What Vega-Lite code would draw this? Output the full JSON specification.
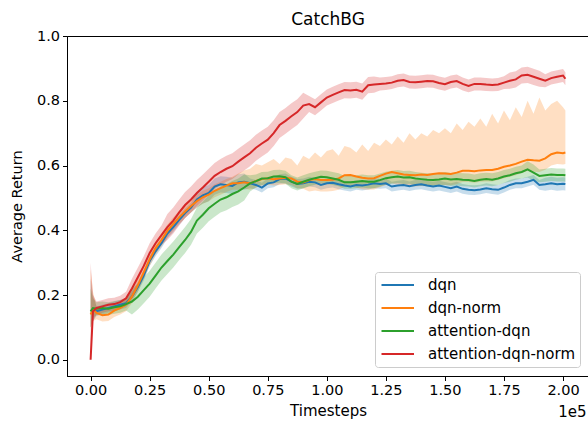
{
"$schema": "https://vega.github.io/schema/vega-lite/v6.json",
"width": 522, "height": 340,
"autosize": {"type": "none"},
"padding": {"left": 67, "top": 36, "right": 0, "bottom": 46},
"background": "white",
"config": {
  "font": "DejaVu Sans",
  "view": {"stroke": "black", "strokeWidth": 1}
},
"title": {"text": "CatchBG", "fontSize": 17, "fontWeight": "normal", "font": "DejaVu Sans", "color": "black", "offset": -1, "anchor": "middle"},
"data": {"values": [
{"s":"dqn","t":0,"v":0.15,"lo":0.10,"hi":0.25},
{"s":"dqn","t":0.01,"v":0.155,"lo":0.12,"hi":0.20},
{"s":"dqn","t":0.025,"v":0.15,"lo":0.135,"hi":0.165},
{"s":"dqn","t":0.05,"v":0.155,"lo":0.14,"hi":0.17},
{"s":"dqn","t":0.075,"v":0.16,"lo":0.145,"hi":0.175},
{"s":"dqn","t":0.1,"v":0.165,"lo":0.15,"hi":0.18},
{"s":"dqn","t":0.125,"v":0.17,"lo":0.155,"hi":0.185},
{"s":"dqn","t":0.15,"v":0.175,"lo":0.16,"hi":0.19},
{"s":"dqn","t":0.175,"v":0.195,"lo":0.18,"hi":0.21},
{"s":"dqn","t":0.2,"v":0.225,"lo":0.21,"hi":0.24},
{"s":"dqn","t":0.225,"v":0.26,"lo":0.245,"hi":0.275},
{"s":"dqn","t":0.25,"v":0.305,"lo":0.29,"hi":0.32},
{"s":"dqn","t":0.275,"v":0.335,"lo":0.32,"hi":0.35},
{"s":"dqn","t":0.3,"v":0.36,"lo":0.345,"hi":0.375},
{"s":"dqn","t":0.325,"v":0.39,"lo":0.375,"hi":0.405},
{"s":"dqn","t":0.35,"v":0.41,"lo":0.395,"hi":0.425},
{"s":"dqn","t":0.375,"v":0.432,"lo":0.417,"hi":0.447},
{"s":"dqn","t":0.4,"v":0.453,"lo":0.438,"hi":0.468},
{"s":"dqn","t":0.425,"v":0.47,"lo":0.455,"hi":0.485},
{"s":"dqn","t":0.45,"v":0.495,"lo":0.47,"hi":0.52},
{"s":"dqn","t":0.475,"v":0.508,"lo":0.483,"hi":0.533},
{"s":"dqn","t":0.5,"v":0.515,"lo":0.49,"hi":0.54},
{"s":"dqn","t":0.525,"v":0.535,"lo":0.51,"hi":0.56},
{"s":"dqn","t":0.55,"v":0.542,"lo":0.517,"hi":0.567},
{"s":"dqn","t":0.575,"v":0.54,"lo":0.515,"hi":0.565},
{"s":"dqn","t":0.6,"v":0.537,"lo":0.512,"hi":0.562},
{"s":"dqn","t":0.625,"v":0.548,"lo":0.523,"hi":0.573},
{"s":"dqn","t":0.65,"v":0.55,"lo":0.525,"hi":0.575},
{"s":"dqn","t":0.675,"v":0.545,"lo":0.53,"hi":0.56},
{"s":"dqn","t":0.7,"v":0.54,"lo":0.525,"hi":0.555},
{"s":"dqn","t":0.725,"v":0.532,"lo":0.517,"hi":0.547},
{"s":"dqn","t":0.75,"v":0.545,"lo":0.53,"hi":0.56},
{"s":"dqn","t":0.775,"v":0.548,"lo":0.533,"hi":0.563},
{"s":"dqn","t":0.8,"v":0.558,"lo":0.543,"hi":0.573},
{"s":"dqn","t":0.825,"v":0.56,"lo":0.545,"hi":0.575},
{"s":"dqn","t":0.85,"v":0.55,"lo":0.535,"hi":0.565},
{"s":"dqn","t":0.875,"v":0.543,"lo":0.528,"hi":0.558},
{"s":"dqn","t":0.9,"v":0.545,"lo":0.53,"hi":0.56},
{"s":"dqn","t":0.925,"v":0.55,"lo":0.535,"hi":0.565},
{"s":"dqn","t":0.95,"v":0.548,"lo":0.533,"hi":0.563},
{"s":"dqn","t":0.975,"v":0.54,"lo":0.525,"hi":0.555},
{"s":"dqn","t":1.0,"v":0.545,"lo":0.53,"hi":0.56},
{"s":"dqn","t":1.025,"v":0.547,"lo":0.532,"hi":0.562},
{"s":"dqn","t":1.05,"v":0.542,"lo":0.527,"hi":0.557},
{"s":"dqn","t":1.075,"v":0.538,"lo":0.523,"hi":0.553},
{"s":"dqn","t":1.1,"v":0.535,"lo":0.52,"hi":0.55},
{"s":"dqn","t":1.125,"v":0.54,"lo":0.525,"hi":0.555},
{"s":"dqn","t":1.15,"v":0.538,"lo":0.523,"hi":0.553},
{"s":"dqn","t":1.175,"v":0.541,"lo":0.526,"hi":0.556},
{"s":"dqn","t":1.2,"v":0.545,"lo":0.53,"hi":0.56},
{"s":"dqn","t":1.225,"v":0.543,"lo":0.528,"hi":0.558},
{"s":"dqn","t":1.25,"v":0.545,"lo":0.53,"hi":0.56},
{"s":"dqn","t":1.275,"v":0.535,"lo":0.52,"hi":0.55},
{"s":"dqn","t":1.3,"v":0.538,"lo":0.523,"hi":0.553},
{"s":"dqn","t":1.325,"v":0.54,"lo":0.525,"hi":0.555},
{"s":"dqn","t":1.35,"v":0.536,"lo":0.521,"hi":0.551},
{"s":"dqn","t":1.375,"v":0.54,"lo":0.525,"hi":0.555},
{"s":"dqn","t":1.4,"v":0.542,"lo":0.527,"hi":0.557},
{"s":"dqn","t":1.425,"v":0.538,"lo":0.523,"hi":0.553},
{"s":"dqn","t":1.45,"v":0.535,"lo":0.52,"hi":0.55},
{"s":"dqn","t":1.475,"v":0.538,"lo":0.523,"hi":0.553},
{"s":"dqn","t":1.5,"v":0.534,"lo":0.519,"hi":0.549},
{"s":"dqn","t":1.525,"v":0.53,"lo":0.515,"hi":0.545},
{"s":"dqn","t":1.55,"v":0.535,"lo":0.52,"hi":0.55},
{"s":"dqn","t":1.575,"v":0.528,"lo":0.513,"hi":0.543},
{"s":"dqn","t":1.6,"v":0.525,"lo":0.51,"hi":0.54},
{"s":"dqn","t":1.625,"v":0.524,"lo":0.509,"hi":0.539},
{"s":"dqn","t":1.65,"v":0.526,"lo":0.511,"hi":0.541},
{"s":"dqn","t":1.675,"v":0.53,"lo":0.515,"hi":0.545},
{"s":"dqn","t":1.7,"v":0.527,"lo":0.512,"hi":0.542},
{"s":"dqn","t":1.725,"v":0.525,"lo":0.51,"hi":0.54},
{"s":"dqn","t":1.75,"v":0.532,"lo":0.517,"hi":0.547},
{"s":"dqn","t":1.775,"v":0.54,"lo":0.525,"hi":0.555},
{"s":"dqn","t":1.8,"v":0.545,"lo":0.53,"hi":0.56},
{"s":"dqn","t":1.825,"v":0.545,"lo":0.53,"hi":0.56},
{"s":"dqn","t":1.85,"v":0.55,"lo":0.535,"hi":0.565},
{"s":"dqn","t":1.875,"v":0.556,"lo":0.541,"hi":0.571},
{"s":"dqn","t":1.9,"v":0.54,"lo":0.525,"hi":0.555},
{"s":"dqn","t":1.925,"v":0.542,"lo":0.522,"hi":0.562},
{"s":"dqn","t":1.95,"v":0.545,"lo":0.525,"hi":0.565},
{"s":"dqn","t":1.975,"v":0.542,"lo":0.522,"hi":0.562},
{"s":"dqn","t":2.0,"v":0.544,"lo":0.524,"hi":0.564},
{"s":"dqn","t":2.01,"v":0.543,"lo":0.523,"hi":0.563},
{"s":"dqn-norm","t":0,"v":0.14,"lo":0.10,"hi":0.28},
{"s":"dqn-norm","t":0.01,"v":0.155,"lo":0.12,"hi":0.21},
{"s":"dqn-norm","t":0.025,"v":0.145,"lo":0.125,"hi":0.165},
{"s":"dqn-norm","t":0.05,"v":0.138,"lo":0.118,"hi":0.158},
{"s":"dqn-norm","t":0.075,"v":0.14,"lo":0.12,"hi":0.16},
{"s":"dqn-norm","t":0.1,"v":0.152,"lo":0.132,"hi":0.172},
{"s":"dqn-norm","t":0.125,"v":0.16,"lo":0.14,"hi":0.18},
{"s":"dqn-norm","t":0.15,"v":0.17,"lo":0.15,"hi":0.19},
{"s":"dqn-norm","t":0.175,"v":0.195,"lo":0.175,"hi":0.215},
{"s":"dqn-norm","t":0.2,"v":0.23,"lo":0.21,"hi":0.25},
{"s":"dqn-norm","t":0.225,"v":0.27,"lo":0.25,"hi":0.29},
{"s":"dqn-norm","t":0.25,"v":0.31,"lo":0.29,"hi":0.33},
{"s":"dqn-norm","t":0.275,"v":0.345,"lo":0.325,"hi":0.365},
{"s":"dqn-norm","t":0.3,"v":0.37,"lo":0.35,"hi":0.39},
{"s":"dqn-norm","t":0.325,"v":0.398,"lo":0.378,"hi":0.418},
{"s":"dqn-norm","t":0.35,"v":0.42,"lo":0.40,"hi":0.44},
{"s":"dqn-norm","t":0.375,"v":0.44,"lo":0.42,"hi":0.46},
{"s":"dqn-norm","t":0.4,"v":0.458,"lo":0.438,"hi":0.478},
{"s":"dqn-norm","t":0.425,"v":0.475,"lo":0.455,"hi":0.495},
{"s":"dqn-norm","t":0.45,"v":0.49,"lo":0.47,"hi":0.51},
{"s":"dqn-norm","t":0.475,"v":0.502,"lo":0.482,"hi":0.522},
{"s":"dqn-norm","t":0.5,"v":0.51,"lo":0.49,"hi":0.53},
{"s":"dqn-norm","t":0.525,"v":0.522,"lo":0.502,"hi":0.542},
{"s":"dqn-norm","t":0.55,"v":0.53,"lo":0.51,"hi":0.55},
{"s":"dqn-norm","t":0.575,"v":0.538,"lo":0.518,"hi":0.558},
{"s":"dqn-norm","t":0.6,"v":0.545,"lo":0.525,"hi":0.565},
{"s":"dqn-norm","t":0.625,"v":0.545,"lo":0.525,"hi":0.575},
{"s":"dqn-norm","t":0.65,"v":0.548,"lo":0.528,"hi":0.585},
{"s":"dqn-norm","t":0.675,"v":0.545,"lo":0.525,"hi":0.59},
{"s":"dqn-norm","t":0.7,"v":0.552,"lo":0.532,"hi":0.605},
{"s":"dqn-norm","t":0.725,"v":0.558,"lo":0.538,"hi":0.6},
{"s":"dqn-norm","t":0.75,"v":0.561,"lo":0.541,"hi":0.61},
{"s":"dqn-norm","t":0.775,"v":0.558,"lo":0.538,"hi":0.62},
{"s":"dqn-norm","t":0.8,"v":0.56,"lo":0.54,"hi":0.605},
{"s":"dqn-norm","t":0.825,"v":0.562,"lo":0.542,"hi":0.625},
{"s":"dqn-norm","t":0.85,"v":0.56,"lo":0.54,"hi":0.62},
{"s":"dqn-norm","t":0.875,"v":0.55,"lo":0.53,"hi":0.6},
{"s":"dqn-norm","t":0.9,"v":0.548,"lo":0.528,"hi":0.63},
{"s":"dqn-norm","t":0.925,"v":0.555,"lo":0.52,"hi":0.62},
{"s":"dqn-norm","t":0.95,"v":0.558,"lo":0.523,"hi":0.64},
{"s":"dqn-norm","t":0.975,"v":0.555,"lo":0.52,"hi":0.625},
{"s":"dqn-norm","t":1.0,"v":0.555,"lo":0.52,"hi":0.645},
{"s":"dqn-norm","t":1.025,"v":0.556,"lo":0.521,"hi":0.65},
{"s":"dqn-norm","t":1.05,"v":0.56,"lo":0.525,"hi":0.63},
{"s":"dqn-norm","t":1.075,"v":0.57,"lo":0.535,"hi":0.66},
{"s":"dqn-norm","t":1.1,"v":0.571,"lo":0.536,"hi":0.655},
{"s":"dqn-norm","t":1.125,"v":0.566,"lo":0.531,"hi":0.64},
{"s":"dqn-norm","t":1.15,"v":0.562,"lo":0.527,"hi":0.665},
{"s":"dqn-norm","t":1.175,"v":0.56,"lo":0.525,"hi":0.645},
{"s":"dqn-norm","t":1.2,"v":0.561,"lo":0.526,"hi":0.67},
{"s":"dqn-norm","t":1.225,"v":0.568,"lo":0.533,"hi":0.66},
{"s":"dqn-norm","t":1.25,"v":0.575,"lo":0.54,"hi":0.68},
{"s":"dqn-norm","t":1.275,"v":0.58,"lo":0.545,"hi":0.665},
{"s":"dqn-norm","t":1.3,"v":0.576,"lo":0.541,"hi":0.69},
{"s":"dqn-norm","t":1.325,"v":0.572,"lo":0.537,"hi":0.67},
{"s":"dqn-norm","t":1.35,"v":0.571,"lo":0.536,"hi":0.70},
{"s":"dqn-norm","t":1.375,"v":0.57,"lo":0.535,"hi":0.68},
{"s":"dqn-norm","t":1.4,"v":0.572,"lo":0.537,"hi":0.70},
{"s":"dqn-norm","t":1.425,"v":0.571,"lo":0.536,"hi":0.69},
{"s":"dqn-norm","t":1.45,"v":0.574,"lo":0.539,"hi":0.71},
{"s":"dqn-norm","t":1.475,"v":0.576,"lo":0.541,"hi":0.70},
{"s":"dqn-norm","t":1.5,"v":0.575,"lo":0.54,"hi":0.715},
{"s":"dqn-norm","t":1.525,"v":0.574,"lo":0.539,"hi":0.70},
{"s":"dqn-norm","t":1.55,"v":0.578,"lo":0.543,"hi":0.73},
{"s":"dqn-norm","t":1.575,"v":0.584,"lo":0.549,"hi":0.71},
{"s":"dqn-norm","t":1.6,"v":0.584,"lo":0.549,"hi":0.735},
{"s":"dqn-norm","t":1.625,"v":0.582,"lo":0.547,"hi":0.72},
{"s":"dqn-norm","t":1.65,"v":0.585,"lo":0.55,"hi":0.745},
{"s":"dqn-norm","t":1.675,"v":0.586,"lo":0.551,"hi":0.72},
{"s":"dqn-norm","t":1.7,"v":0.586,"lo":0.551,"hi":0.76},
{"s":"dqn-norm","t":1.725,"v":0.59,"lo":0.555,"hi":0.73},
{"s":"dqn-norm","t":1.75,"v":0.596,"lo":0.561,"hi":0.77},
{"s":"dqn-norm","t":1.775,"v":0.6,"lo":0.565,"hi":0.74},
{"s":"dqn-norm","t":1.8,"v":0.605,"lo":0.57,"hi":0.78},
{"s":"dqn-norm","t":1.825,"v":0.612,"lo":0.577,"hi":0.75},
{"s":"dqn-norm","t":1.85,"v":0.618,"lo":0.583,"hi":0.80},
{"s":"dqn-norm","t":1.875,"v":0.616,"lo":0.581,"hi":0.76},
{"s":"dqn-norm","t":1.9,"v":0.615,"lo":0.58,"hi":0.81},
{"s":"dqn-norm","t":1.925,"v":0.622,"lo":0.587,"hi":0.77},
{"s":"dqn-norm","t":1.95,"v":0.635,"lo":0.6,"hi":0.79},
{"s":"dqn-norm","t":1.975,"v":0.64,"lo":0.605,"hi":0.80},
{"s":"dqn-norm","t":2.0,"v":0.638,"lo":0.603,"hi":0.78},
{"s":"dqn-norm","t":2.01,"v":0.64,"lo":0.605,"hi":0.77},
{"s":"attention-dqn","t":0,"v":0.15,"lo":0.10,"hi":0.22},
{"s":"attention-dqn","t":0.01,"v":0.16,"lo":0.13,"hi":0.19},
{"s":"attention-dqn","t":0.025,"v":0.158,"lo":0.138,"hi":0.178},
{"s":"attention-dqn","t":0.05,"v":0.16,"lo":0.14,"hi":0.18},
{"s":"attention-dqn","t":0.075,"v":0.158,"lo":0.138,"hi":0.178},
{"s":"attention-dqn","t":0.1,"v":0.162,"lo":0.142,"hi":0.182},
{"s":"attention-dqn","t":0.125,"v":0.165,"lo":0.145,"hi":0.185},
{"s":"attention-dqn","t":0.15,"v":0.172,"lo":0.152,"hi":0.192},
{"s":"attention-dqn","t":0.175,"v":0.18,"lo":0.14,"hi":0.22},
{"s":"attention-dqn","t":0.2,"v":0.195,"lo":0.155,"hi":0.235},
{"s":"attention-dqn","t":0.225,"v":0.215,"lo":0.175,"hi":0.255},
{"s":"attention-dqn","t":0.25,"v":0.235,"lo":0.195,"hi":0.275},
{"s":"attention-dqn","t":0.275,"v":0.26,"lo":0.22,"hi":0.30},
{"s":"attention-dqn","t":0.3,"v":0.285,"lo":0.245,"hi":0.325},
{"s":"attention-dqn","t":0.325,"v":0.305,"lo":0.265,"hi":0.345},
{"s":"attention-dqn","t":0.35,"v":0.325,"lo":0.285,"hi":0.365},
{"s":"attention-dqn","t":0.375,"v":0.348,"lo":0.308,"hi":0.388},
{"s":"attention-dqn","t":0.4,"v":0.37,"lo":0.33,"hi":0.41},
{"s":"attention-dqn","t":0.425,"v":0.395,"lo":0.355,"hi":0.435},
{"s":"attention-dqn","t":0.45,"v":0.43,"lo":0.39,"hi":0.47},
{"s":"attention-dqn","t":0.475,"v":0.448,"lo":0.408,"hi":0.488},
{"s":"attention-dqn","t":0.5,"v":0.468,"lo":0.428,"hi":0.508},
{"s":"attention-dqn","t":0.525,"v":0.482,"lo":0.442,"hi":0.522},
{"s":"attention-dqn","t":0.55,"v":0.495,"lo":0.455,"hi":0.535},
{"s":"attention-dqn","t":0.575,"v":0.502,"lo":0.462,"hi":0.542},
{"s":"attention-dqn","t":0.6,"v":0.512,"lo":0.472,"hi":0.552},
{"s":"attention-dqn","t":0.625,"v":0.52,"lo":0.48,"hi":0.56},
{"s":"attention-dqn","t":0.65,"v":0.532,"lo":0.492,"hi":0.572},
{"s":"attention-dqn","t":0.675,"v":0.545,"lo":0.52,"hi":0.57},
{"s":"attention-dqn","t":0.7,"v":0.552,"lo":0.532,"hi":0.572},
{"s":"attention-dqn","t":0.725,"v":0.56,"lo":0.54,"hi":0.58},
{"s":"attention-dqn","t":0.75,"v":0.561,"lo":0.541,"hi":0.581},
{"s":"attention-dqn","t":0.775,"v":0.566,"lo":0.546,"hi":0.586},
{"s":"attention-dqn","t":0.8,"v":0.567,"lo":0.547,"hi":0.587},
{"s":"attention-dqn","t":0.825,"v":0.564,"lo":0.544,"hi":0.584},
{"s":"attention-dqn","t":0.85,"v":0.55,"lo":0.53,"hi":0.57},
{"s":"attention-dqn","t":0.875,"v":0.543,"lo":0.523,"hi":0.563},
{"s":"attention-dqn","t":0.9,"v":0.55,"lo":0.53,"hi":0.57},
{"s":"attention-dqn","t":0.925,"v":0.556,"lo":0.536,"hi":0.576},
{"s":"attention-dqn","t":0.95,"v":0.561,"lo":0.541,"hi":0.581},
{"s":"attention-dqn","t":0.975,"v":0.565,"lo":0.545,"hi":0.585},
{"s":"attention-dqn","t":1.0,"v":0.564,"lo":0.544,"hi":0.584},
{"s":"attention-dqn","t":1.025,"v":0.56,"lo":0.54,"hi":0.58},
{"s":"attention-dqn","t":1.05,"v":0.556,"lo":0.536,"hi":0.576},
{"s":"attention-dqn","t":1.075,"v":0.548,"lo":0.528,"hi":0.568},
{"s":"attention-dqn","t":1.1,"v":0.548,"lo":0.528,"hi":0.568},
{"s":"attention-dqn","t":1.125,"v":0.55,"lo":0.53,"hi":0.57},
{"s":"attention-dqn","t":1.15,"v":0.552,"lo":0.532,"hi":0.572},
{"s":"attention-dqn","t":1.175,"v":0.55,"lo":0.53,"hi":0.57},
{"s":"attention-dqn","t":1.2,"v":0.55,"lo":0.53,"hi":0.57},
{"s":"attention-dqn","t":1.225,"v":0.555,"lo":0.535,"hi":0.575},
{"s":"attention-dqn","t":1.25,"v":0.561,"lo":0.541,"hi":0.581},
{"s":"attention-dqn","t":1.275,"v":0.564,"lo":0.544,"hi":0.584},
{"s":"attention-dqn","t":1.3,"v":0.566,"lo":0.546,"hi":0.586},
{"s":"attention-dqn","t":1.325,"v":0.563,"lo":0.543,"hi":0.583},
{"s":"attention-dqn","t":1.35,"v":0.564,"lo":0.544,"hi":0.584},
{"s":"attention-dqn","t":1.375,"v":0.56,"lo":0.54,"hi":0.58},
{"s":"attention-dqn","t":1.4,"v":0.558,"lo":0.538,"hi":0.578},
{"s":"attention-dqn","t":1.425,"v":0.556,"lo":0.536,"hi":0.576},
{"s":"attention-dqn","t":1.45,"v":0.555,"lo":0.535,"hi":0.575},
{"s":"attention-dqn","t":1.475,"v":0.557,"lo":0.537,"hi":0.577},
{"s":"attention-dqn","t":1.5,"v":0.56,"lo":0.54,"hi":0.58},
{"s":"attention-dqn","t":1.525,"v":0.557,"lo":0.537,"hi":0.577},
{"s":"attention-dqn","t":1.55,"v":0.558,"lo":0.538,"hi":0.578},
{"s":"attention-dqn","t":1.575,"v":0.556,"lo":0.536,"hi":0.576},
{"s":"attention-dqn","t":1.6,"v":0.555,"lo":0.535,"hi":0.575},
{"s":"attention-dqn","t":1.625,"v":0.552,"lo":0.532,"hi":0.572},
{"s":"attention-dqn","t":1.65,"v":0.556,"lo":0.536,"hi":0.576},
{"s":"attention-dqn","t":1.675,"v":0.558,"lo":0.538,"hi":0.578},
{"s":"attention-dqn","t":1.7,"v":0.556,"lo":0.536,"hi":0.576},
{"s":"attention-dqn","t":1.725,"v":0.56,"lo":0.54,"hi":0.58},
{"s":"attention-dqn","t":1.75,"v":0.566,"lo":0.546,"hi":0.586},
{"s":"attention-dqn","t":1.775,"v":0.57,"lo":0.55,"hi":0.59},
{"s":"attention-dqn","t":1.8,"v":0.576,"lo":0.556,"hi":0.596},
{"s":"attention-dqn","t":1.825,"v":0.58,"lo":0.56,"hi":0.60},
{"s":"attention-dqn","t":1.85,"v":0.588,"lo":0.563,"hi":0.613},
{"s":"attention-dqn","t":1.875,"v":0.578,"lo":0.553,"hi":0.603},
{"s":"attention-dqn","t":1.9,"v":0.568,"lo":0.548,"hi":0.588},
{"s":"attention-dqn","t":1.925,"v":0.57,"lo":0.55,"hi":0.59},
{"s":"attention-dqn","t":1.95,"v":0.572,"lo":0.552,"hi":0.592},
{"s":"attention-dqn","t":1.975,"v":0.571,"lo":0.551,"hi":0.591},
{"s":"attention-dqn","t":2.0,"v":0.571,"lo":0.551,"hi":0.591},
{"s":"attention-dqn","t":2.01,"v":0.57,"lo":0.55,"hi":0.59},
{"s":"attention-dqn-norm","t":0,"v":0.0,"lo":0.0,"hi":0.30},
{"s":"attention-dqn-norm","t":0.01,"v":0.15,"lo":0.12,"hi":0.20},
{"s":"attention-dqn-norm","t":0.025,"v":0.16,"lo":0.14,"hi":0.18},
{"s":"attention-dqn-norm","t":0.05,"v":0.165,"lo":0.145,"hi":0.185},
{"s":"attention-dqn-norm","t":0.075,"v":0.17,"lo":0.15,"hi":0.19},
{"s":"attention-dqn-norm","t":0.1,"v":0.172,"lo":0.152,"hi":0.192},
{"s":"attention-dqn-norm","t":0.125,"v":0.178,"lo":0.158,"hi":0.198},
{"s":"attention-dqn-norm","t":0.15,"v":0.19,"lo":0.17,"hi":0.21},
{"s":"attention-dqn-norm","t":0.175,"v":0.22,"lo":0.19,"hi":0.25},
{"s":"attention-dqn-norm","t":0.2,"v":0.255,"lo":0.225,"hi":0.285},
{"s":"attention-dqn-norm","t":0.225,"v":0.29,"lo":0.26,"hi":0.32},
{"s":"attention-dqn-norm","t":0.25,"v":0.33,"lo":0.30,"hi":0.36},
{"s":"attention-dqn-norm","t":0.275,"v":0.36,"lo":0.33,"hi":0.39},
{"s":"attention-dqn-norm","t":0.3,"v":0.385,"lo":0.355,"hi":0.415},
{"s":"attention-dqn-norm","t":0.325,"v":0.41,"lo":0.37,"hi":0.45},
{"s":"attention-dqn-norm","t":0.35,"v":0.43,"lo":0.39,"hi":0.47},
{"s":"attention-dqn-norm","t":0.375,"v":0.455,"lo":0.415,"hi":0.495},
{"s":"attention-dqn-norm","t":0.4,"v":0.478,"lo":0.438,"hi":0.518},
{"s":"attention-dqn-norm","t":0.425,"v":0.495,"lo":0.455,"hi":0.535},
{"s":"attention-dqn-norm","t":0.45,"v":0.515,"lo":0.475,"hi":0.555},
{"s":"attention-dqn-norm","t":0.475,"v":0.532,"lo":0.492,"hi":0.572},
{"s":"attention-dqn-norm","t":0.5,"v":0.55,"lo":0.51,"hi":0.59},
{"s":"attention-dqn-norm","t":0.525,"v":0.568,"lo":0.528,"hi":0.608},
{"s":"attention-dqn-norm","t":0.55,"v":0.58,"lo":0.54,"hi":0.62},
{"s":"attention-dqn-norm","t":0.575,"v":0.59,"lo":0.55,"hi":0.63},
{"s":"attention-dqn-norm","t":0.6,"v":0.598,"lo":0.558,"hi":0.638},
{"s":"attention-dqn-norm","t":0.625,"v":0.612,"lo":0.572,"hi":0.652},
{"s":"attention-dqn-norm","t":0.65,"v":0.625,"lo":0.585,"hi":0.665},
{"s":"attention-dqn-norm","t":0.675,"v":0.638,"lo":0.598,"hi":0.678},
{"s":"attention-dqn-norm","t":0.7,"v":0.655,"lo":0.615,"hi":0.695},
{"s":"attention-dqn-norm","t":0.725,"v":0.668,"lo":0.628,"hi":0.708},
{"s":"attention-dqn-norm","t":0.75,"v":0.68,"lo":0.64,"hi":0.72},
{"s":"attention-dqn-norm","t":0.775,"v":0.70,"lo":0.66,"hi":0.74},
{"s":"attention-dqn-norm","t":0.8,"v":0.725,"lo":0.685,"hi":0.765},
{"s":"attention-dqn-norm","t":0.825,"v":0.738,"lo":0.698,"hi":0.778},
{"s":"attention-dqn-norm","t":0.85,"v":0.752,"lo":0.712,"hi":0.792},
{"s":"attention-dqn-norm","t":0.875,"v":0.765,"lo":0.725,"hi":0.805},
{"s":"attention-dqn-norm","t":0.9,"v":0.785,"lo":0.745,"hi":0.825},
{"s":"attention-dqn-norm","t":0.925,"v":0.79,"lo":0.765,"hi":0.815},
{"s":"attention-dqn-norm","t":0.95,"v":0.78,"lo":0.755,"hi":0.805},
{"s":"attention-dqn-norm","t":0.975,"v":0.795,"lo":0.77,"hi":0.82},
{"s":"attention-dqn-norm","t":1.0,"v":0.81,"lo":0.785,"hi":0.835},
{"s":"attention-dqn-norm","t":1.025,"v":0.818,"lo":0.793,"hi":0.843},
{"s":"attention-dqn-norm","t":1.05,"v":0.826,"lo":0.801,"hi":0.851},
{"s":"attention-dqn-norm","t":1.075,"v":0.833,"lo":0.808,"hi":0.858},
{"s":"attention-dqn-norm","t":1.1,"v":0.832,"lo":0.807,"hi":0.857},
{"s":"attention-dqn-norm","t":1.125,"v":0.834,"lo":0.809,"hi":0.859},
{"s":"attention-dqn-norm","t":1.15,"v":0.828,"lo":0.803,"hi":0.853},
{"s":"attention-dqn-norm","t":1.175,"v":0.848,"lo":0.823,"hi":0.873},
{"s":"attention-dqn-norm","t":1.2,"v":0.85,"lo":0.825,"hi":0.875},
{"s":"attention-dqn-norm","t":1.225,"v":0.852,"lo":0.832,"hi":0.872},
{"s":"attention-dqn-norm","t":1.25,"v":0.853,"lo":0.833,"hi":0.873},
{"s":"attention-dqn-norm","t":1.275,"v":0.856,"lo":0.836,"hi":0.876},
{"s":"attention-dqn-norm","t":1.3,"v":0.862,"lo":0.842,"hi":0.882},
{"s":"attention-dqn-norm","t":1.325,"v":0.864,"lo":0.844,"hi":0.884},
{"s":"attention-dqn-norm","t":1.35,"v":0.858,"lo":0.838,"hi":0.878},
{"s":"attention-dqn-norm","t":1.375,"v":0.857,"lo":0.837,"hi":0.877},
{"s":"attention-dqn-norm","t":1.4,"v":0.859,"lo":0.839,"hi":0.879},
{"s":"attention-dqn-norm","t":1.425,"v":0.861,"lo":0.841,"hi":0.881},
{"s":"attention-dqn-norm","t":1.45,"v":0.86,"lo":0.84,"hi":0.88},
{"s":"attention-dqn-norm","t":1.475,"v":0.855,"lo":0.835,"hi":0.875},
{"s":"attention-dqn-norm","t":1.5,"v":0.851,"lo":0.831,"hi":0.871},
{"s":"attention-dqn-norm","t":1.525,"v":0.858,"lo":0.838,"hi":0.878},
{"s":"attention-dqn-norm","t":1.55,"v":0.861,"lo":0.841,"hi":0.881},
{"s":"attention-dqn-norm","t":1.575,"v":0.852,"lo":0.832,"hi":0.872},
{"s":"attention-dqn-norm","t":1.6,"v":0.846,"lo":0.826,"hi":0.866},
{"s":"attention-dqn-norm","t":1.625,"v":0.852,"lo":0.832,"hi":0.872},
{"s":"attention-dqn-norm","t":1.65,"v":0.852,"lo":0.832,"hi":0.872},
{"s":"attention-dqn-norm","t":1.675,"v":0.85,"lo":0.83,"hi":0.87},
{"s":"attention-dqn-norm","t":1.7,"v":0.849,"lo":0.829,"hi":0.869},
{"s":"attention-dqn-norm","t":1.725,"v":0.85,"lo":0.83,"hi":0.87},
{"s":"attention-dqn-norm","t":1.75,"v":0.856,"lo":0.836,"hi":0.876},
{"s":"attention-dqn-norm","t":1.775,"v":0.862,"lo":0.837,"hi":0.887},
{"s":"attention-dqn-norm","t":1.8,"v":0.866,"lo":0.841,"hi":0.891},
{"s":"attention-dqn-norm","t":1.825,"v":0.878,"lo":0.853,"hi":0.903},
{"s":"attention-dqn-norm","t":1.85,"v":0.88,"lo":0.855,"hi":0.905},
{"s":"attention-dqn-norm","t":1.875,"v":0.874,"lo":0.849,"hi":0.899},
{"s":"attention-dqn-norm","t":1.9,"v":0.868,"lo":0.843,"hi":0.893},
{"s":"attention-dqn-norm","t":1.925,"v":0.862,"lo":0.842,"hi":0.882},
{"s":"attention-dqn-norm","t":1.95,"v":0.87,"lo":0.85,"hi":0.89},
{"s":"attention-dqn-norm","t":1.975,"v":0.874,"lo":0.854,"hi":0.894},
{"s":"attention-dqn-norm","t":2.0,"v":0.878,"lo":0.858,"hi":0.898},
{"s":"attention-dqn-norm","t":2.01,"v":0.868,"lo":0.848,"hi":0.888}
]},
"layer": [
  {
    "mark": {"type": "area", "opacity": 0.25, "interpolate": "linear"},
    "encoding": {
      "x": {"field": "t", "type": "quantitative"},
      "y": {"field": "lo", "type": "quantitative"},
      "y2": {"field": "hi"},
      "color": {"field": "s", "type": "nominal"}
    }
  },
  {
    "mark": {"type": "line", "strokeWidth": 2, "interpolate": "linear"},
    "encoding": {
      "x": {"field": "t", "type": "quantitative",
            "scale": {"domain": [-0.1, 2.11], "nice": false, "zero": false},
            "axis": {"title": "Timesteps", "values": [0, 0.25, 0.5, 0.75, 1.0, 1.25, 1.5, 1.75, 2.0], "format": ".2f", "grid": false, "domainColor": "black", "tickColor": "black", "labelColor": "black", "titleColor": "black", "labelFontSize": 14.5, "titleFontSize": 15, "titleFontWeight": "normal", "tickSize": 4.5, "labelPadding": 3, "labelFont": "DejaVu Sans", "titleFont": "DejaVu Sans", "titlePadding": 6}},
      "y": {"field": "v", "type": "quantitative",
            "scale": {"domain": [-0.05, 1.0], "nice": false, "zero": false},
            "axis": {"title": "Average Return", "values": [0, 0.2, 0.4, 0.6, 0.8, 1.0], "format": ".1f", "grid": false, "domainColor": "black", "tickColor": "black", "labelColor": "black", "titleColor": "black", "labelFontSize": 14.5, "titleFontSize": 14.5, "titleFontWeight": "normal", "tickSize": 4.5, "labelPadding": 3, "labelFont": "DejaVu Sans", "titleFont": "DejaVu Sans", "titlePadding": 12}},
      "color": {"field": "s", "type": "nominal",
                "scale": {"domain": ["dqn", "dqn-norm", "attention-dqn", "attention-dqn-norm"], "range": ["#1f77b4", "#ff7f0e", "#2ca02c", "#d62728"]},
                "legend": {"title": null, "orient": "bottom-right", "offset": 9, "padding": 5, "strokeColor": "#cccccc", "fillColor": "white", "cornerRadius": 3, "labelFontSize": 15, "labelFont": "DejaVu Sans", "labelColor": "black", "symbolType": "M-1,0H4", "symbolSize": 169, "symbolStrokeWidth": 2.2, "rowPadding": 7, "labelOffset": 32,
                           "encode": {"symbols": {"update": {"opacity": {"value": 1}, "strokeOpacity": {"value": 1}, "fillOpacity": {"value": 0}}}}}}
    }
  },
  {
    "data": {"values": [{"t": 2.1, "v": -0.162, "label": "1e5"}]},
    "mark": {"type": "text", "align": "right", "baseline": "middle", "fontSize": 15, "font": "DejaVu Sans", "color": "black", "clip": false},
    "encoding": {
      "x": {"field": "t", "type": "quantitative"},
      "y": {"field": "v", "type": "quantitative"},
      "text": {"field": "label"}
    }
  }
]
}
